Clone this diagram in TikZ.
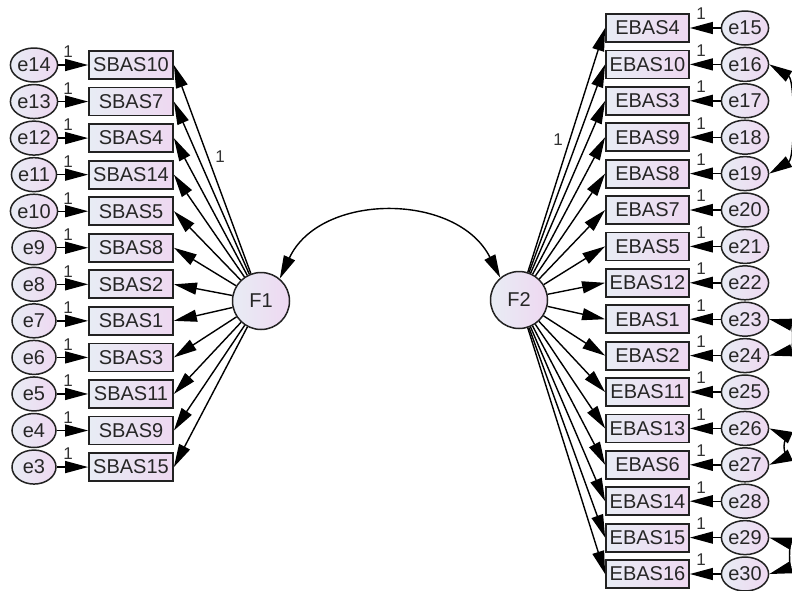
\documentclass[tikz,border=0pt]{standalone}
\usepackage{fontspec}
\setmainfont{Liberation Sans}
\usetikzlibrary{arrows.meta,shapes.geometric}
\definecolor{fillA}{HTML}{E8ECF4}
\definecolor{fillB}{HTML}{EED8F1}
\definecolor{edgec}{HTML}{222222}
\tikzset{
  obs/.style={draw=edgec,line width=1.8pt,left color=fillA,right color=fillB,minimum height=28pt,inner sep=0pt,font=\fontsize{20}{20}\selectfont,text=black!85},
  err/.style={ellipse,draw=edgec,line width=1.5pt,left color=fillA,right color=fillB,minimum width=44pt,minimum height=34pt,inner sep=0pt,font=\fontsize{20}{20}\selectfont,text=black!85},
  lat/.style={circle,draw=edgec,line width=1.5pt,left color=fillA,right color=fillB,minimum size=57pt,inner sep=0pt,font=\fontsize{20}{20}\selectfont,text=black!85},
  tipA/.tip={Triangle[length=23pt,width=12pt]},
  arr/.style={line width=1.4pt,-tipA},
  dbl/.style={line width=1.4pt,tipA-tipA},
  one/.style={font=\fontsize{17}{17}\selectfont,inner sep=0pt,text=black!80}
}
\begin{document}
\begin{tikzpicture}[x=1pt,y=-1pt]
\useasboundingbox (0,0) rectangle (792,590);
\node[lat] (F1) at (261,301) {F1};
\node[lat] (F2) at (519,300) {F2};
% left side
\foreach \b/\e [count=\i from 0] in {SBAS10/e14,SBAS7/e13,SBAS4/e12,SBAS14/e11,SBAS5/e10,SBAS8/e9,SBAS2/e8,SBAS1/e7,SBAS3/e6,SBAS11/e5,SBAS9/e4,SBAS15/e3}{
  \pgfmathsetmacro{\yy}{65+36.55*\i}
  \node[obs,minimum width=84pt] (\b) at (131,\yy) {\b};
  \node[err] (\e) at (34,\yy) {\e};
  \draw[arr] (\e.east) -- (\b.west);
  \node[one] (one\e) at (68,\yy-13) {1};
  \draw[arr] (F1) -- (\b.east);
}
% right side
\foreach \b/\e [count=\i from 0] in {EBAS4/e15,EBAS10/e16,EBAS3/e17,EBAS9/e18,EBAS8/e19,EBAS7/e20,EBAS5/e21,EBAS12/e22,EBAS1/e23,EBAS2/e24,EBAS11/e25,EBAS13/e26,EBAS6/e27,EBAS14/e28,EBAS15/e29,EBAS16/e30}{
  \pgfmathsetmacro{\yy}{28+36.4*\i}
  \node[obs,minimum width=83pt] (\b) at (647.5,\yy) {\b};
  \node[err] (\e) at (745,\yy) {\e};
  \draw[arr] (\e.west) -- (\b.east);
  \node[one] (one\e) at (701,\yy-14) {1};
  \draw[arr] (F2) -- (\b.west);
}
\node[one] (l1) at (220,157) {1};
\node[one] (l2) at (558,140) {1};
% factor covariance
\draw[dbl] (F1.50) .. controls (320,192) and (457,192) .. (F2.130);
% error covariances
\draw[dbl] (e16.east) .. controls (795,80) and (795,158) .. (e19.east);
\draw[dbl] (e23.east) .. controls (793,325) and (793,350) .. (e24.east);
\draw[dbl] (e26.east) .. controls (782,434) and (782,459) .. (e27.east);
\draw[dbl] (e29.east) .. controls (789,543) and (789,568) .. (e30.east);
\end{tikzpicture}
\end{document}
